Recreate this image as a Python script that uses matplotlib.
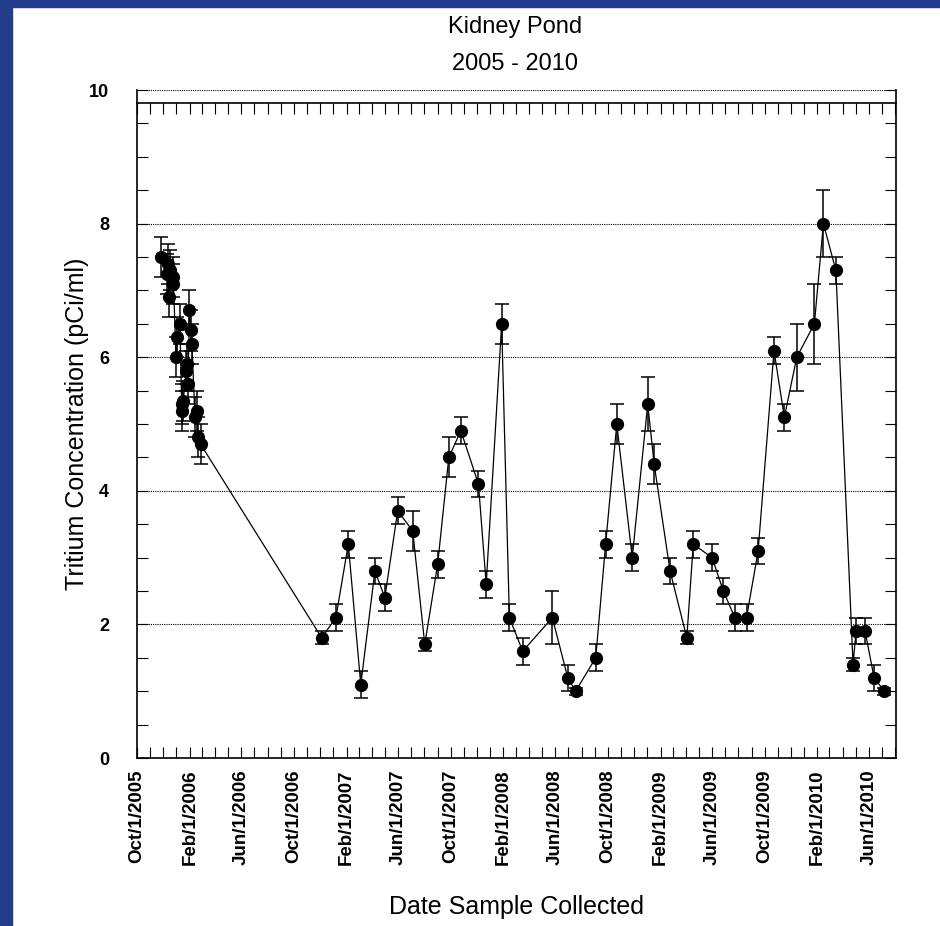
import matplotlib
matplotlib.use("Agg")
import matplotlib.pyplot as plt
import matplotlib.dates as mdates
from matplotlib.ticker import MultipleLocator, NullFormatter
from matplotlib.patches import Rectangle
import pandas as pd

# sample dates and tritium results (pCi/ml)
dates = [
    "2005-11-26", "2005-12-09", "2005-12-13", "2005-12-15", "2005-12-17",
    "2005-12-23", "2005-12-25", "2005-12-31", "2006-01-03", "2006-01-09",
    "2006-01-13", "2006-01-15", "2006-01-17", "2006-01-23", "2006-01-26",
    "2006-01-28", "2006-01-31", "2006-02-04", "2006-02-06", "2006-02-13",
    "2006-02-17", "2006-02-21", "2006-02-26",
    "2006-12-05", "2007-01-07", "2007-02-05", "2007-03-06", "2007-04-08",
    "2007-05-01", "2007-05-31", "2007-07-05", "2007-08-02", "2007-09-01",
    "2007-09-27", "2007-10-25", "2007-12-05", "2007-12-23", "2008-01-28",
    "2008-02-15", "2008-03-17", "2008-05-25", "2008-06-30", "2008-07-18",
    "2008-09-03", "2008-09-26", "2008-10-22", "2008-11-27", "2009-01-02",
    "2009-01-17", "2009-02-23", "2009-04-03", "2009-04-18", "2009-06-01",
    "2009-06-27", "2009-07-24", "2009-08-20", "2009-09-16", "2009-10-23",
    "2009-11-16", "2009-12-15", "2010-01-25", "2010-02-15", "2010-03-16",
    "2010-04-25", "2010-05-02", "2010-05-23", "2010-06-13", "2010-07-07",
]
tritium = [
    7.5, 7.25, 7.4, 6.9, 7.3, 7.2, 7.1, 6.0, 6.3, 6.5,
    5.3, 5.2, 5.35, 5.8, 5.9, 5.6, 6.7, 6.4, 6.2, 5.1,
    5.2, 4.8, 4.7,
    1.8, 2.1, 3.2, 1.1, 2.8, 2.4, 3.7, 3.4, 1.7, 2.9,
    4.5, 4.9, 4.1, 2.6, 6.5, 2.1, 1.6, 2.1, 1.2, 1.0,
    1.5, 3.2, 5.0, 3.0, 5.3, 4.4, 2.8, 1.8, 3.2, 3.0,
    2.5, 2.1, 2.1, 3.1, 6.1, 5.1, 6.0, 6.5, 8.0, 7.3,
    1.4, 1.9, 1.9, 1.2, 1.0,
]
error = [
    0.3, 0.3, 0.3, 0.3, 0.3, 0.3, 0.3, 0.3, 0.3, 0.3,
    0.3, 0.3, 0.3, 0.3, 0.3, 0.3, 0.3, 0.3, 0.3, 0.3,
    0.3, 0.3, 0.3,
    0.1, 0.2, 0.2, 0.2, 0.2, 0.2, 0.2, 0.3, 0.1, 0.2,
    0.3, 0.2, 0.2, 0.2, 0.3, 0.2, 0.2, 0.4, 0.2, 0.05,
    0.2, 0.2, 0.3, 0.2, 0.4, 0.3, 0.2, 0.1, 0.2, 0.2,
    0.2, 0.2, 0.2, 0.2, 0.2, 0.2, 0.5, 0.6, 0.5, 0.2,
    0.1, 0.2, 0.2, 0.2, 0.05,
]

x = pd.to_datetime(dates)

fig = plt.figure(figsize=(9.4, 9.26), dpi=100, facecolor="white")
# slide background showing at the left and top edges
fig.patches.append(Rectangle((0, 0), 12 / 940, 1, transform=fig.transFigure,
                             color="#233c8c", zorder=0))
fig.patches.append(Rectangle((0, 1 - 7 / 926), 1, 7 / 926, transform=fig.transFigure,
                             color="#233c8c", zorder=0))

ax = fig.add_axes([0.1457, 0.1814, 0.8075, 0.7214])

ax.errorbar(x, tritium, yerr=error, fmt="o-", color="black", ms=8.5,
            lw=0.9, elinewidth=1.1, capsize=5, capthick=1.1, zorder=3)

ax.set_ylim(0, 10)
ax.set_xlim(pd.Timestamp("2005-10-01"), pd.Timestamp("2010-08-03"))

ax.yaxis.set_major_locator(MultipleLocator(2))
ax.yaxis.set_minor_locator(MultipleLocator(0.5))
ax.xaxis.set_major_locator(mdates.MonthLocator(bymonth=[2, 6, 10]))
ax.xaxis.set_minor_locator(mdates.MonthLocator())
ax.xaxis.set_major_formatter(mdates.DateFormatter("%b/1/%Y"))

ax.grid(axis="y", which="major", linestyle=(0, (1, 1)), color="black", lw=0.8)

for side in ["left", "right", "bottom"]:
    ax.spines[side].set_linewidth(1.2)
ax.spines["top"].set_visible(False)

ax.tick_params(which="both", direction="in", left=True, right=True,
               bottom=True, top=False, width=0.8, length=8)
ax.tick_params(axis="y", pad=20)
ax.tick_params(axis="x", pad=8)

for lab in ax.get_yticklabels():
    lab.set_fontweight("bold")
    lab.set_fontsize(13)
    lab.set_family("Liberation Sans")
for lab in ax.get_xticklabels():
    lab.set_fontweight("bold")
    lab.set_fontsize(13.5)
    lab.set_family("Liberation Sans")
    lab.set_rotation(90)

# solid line just under the top with month ticks hanging down
sec = ax.secondary_xaxis(0.98)
sec.xaxis.set_major_locator(mdates.MonthLocator())
sec.xaxis.set_major_formatter(NullFormatter())
sec.tick_params(direction="in", length=8, width=0.8)
sec.spines["top"].set_linewidth(1.2)

ax.set_ylabel("Tritium Concentration (pCi/ml)", fontsize=18,
              family="Liberation Sans", labelpad=0)
ax.set_xlabel("Date Sample Collected", fontsize=18,
              family="Liberation Sans", labelpad=22)

fig.text(0.548, 0.983, "Kidney Pond", ha="center", va="top", fontsize=17,
         family="Liberation Sans")
fig.text(0.548, 0.943, "2005 - 2010", ha="center", va="top", fontsize=17,
         family="Liberation Sans")

fig.savefig("out.png", dpi=100, facecolor=fig.get_facecolor())
